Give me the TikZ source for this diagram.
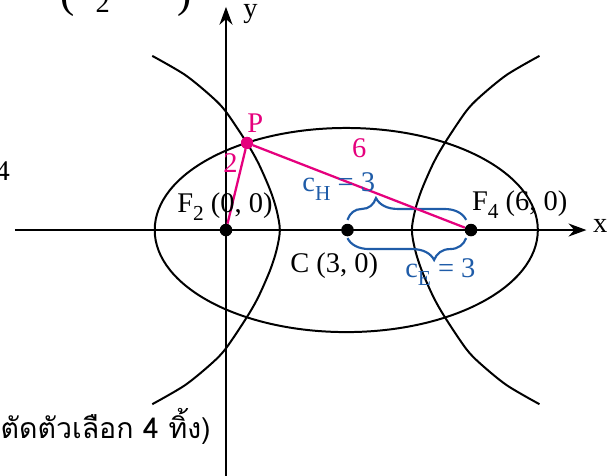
\documentclass[tikz,border=0pt]{standalone}
\usepackage{fontspec}
\setmainfont{Liberation Serif}
\newfontfamily\thaifont[Script=Thai]{Loma}
\usepackage{tikz}
\usetikzlibrary{positioning,arrows.meta,decorations.pathreplacing,calc}
\definecolor{hotpink}{RGB}{229,0,125}
\definecolor{braceblue}{RGB}{31,92,168}
\newcommand{\lowsub}[1]{\raisebox{-6pt}{\fontsize{15}{15}\selectfont #1}}

\begin{document}
\begin{tikzpicture}[
    font=\fontsize{20}{22}\selectfont,
    axis/.style={line width=1.4pt, -{Stealth[length=4.4mm, width=3.2mm, inset=1.4mm]}},
    curve/.style={line width=1.4pt},
    dot/.style={circle, fill=black, inner sep=0pt, minimum size=3.1mm},
    pdot/.style={circle, fill=hotpink, inner sep=0pt, minimum size=3mm},
    seg/.style={line width=1.6pt, hotpink},
    brc/.style={line width=1.5pt, braceblue, decorate,
                decoration={brace, amplitude=5.4mm, aspect=#1}},
    lbl/.style={inner sep=0pt, anchor=base west},
    rlbl/.style={inner sep=0pt, anchor=base east}
]
\useasboundingbox (-5.58,-6.05) rectangle (9.63,5.68);
\clip (-5.58,-6.05) rectangle (9.63,5.68);
\coordinate (xl) at (-5.21,0);
\coordinate (xr) at (8.9,0);
\coordinate (yb) at (0,-6.3);
\coordinate (yt) at (0,5.51);
\draw[axis] (xl) -- (xr);
\draw[axis] (yb) -- (yt);
\node[lbl] (xlab) at (9.06,-0.07) {x};
\node[lbl] (ylab) at (0.42,5.24) {y};
\draw[curve] (2.97,0) ellipse [x radius=4.73, y radius=2.52];
\draw[curve] plot[smooth] coordinates {(-1.82,4.30) (-1.01,3.83) (-0.35,3.29)
    (0,2.92) (0.51,2.16) (0.80,1.65) (1.09,0.99) (1.25,0.49) (1.33,0)
    (1.25,-0.49) (1.09,-0.99) (0.80,-1.65) (0.51,-2.16) (0,-2.92)
    (-0.35,-3.29) (-1.01,-3.83) (-1.82,-4.30)};
\draw[curve] plot[smooth] coordinates {(7.74,4.30) (6.93,3.83) (6.27,3.29)
    (5.92,2.92) (5.41,2.16) (5.12,1.65) (4.83,0.99) (4.67,0.49) (4.59,0)
    (4.67,-0.49) (4.83,-0.99) (5.12,-1.65) (5.41,-2.16) (5.92,-2.92)
    (6.27,-3.29) (6.93,-3.83) (7.74,-4.30)};
\node[dot] (F2) at (0,0) {};
\node[dot] (C) at (3,0) {};
\node[dot] (F4) at (6.05,0) {};
\node[pdot] (P) at (0.52,2.15) {};
\coordinate (bl) at ($(C)+(0,0.25)$);
\coordinate (br) at ($(F4)+(-0.12,0.25)$);
\coordinate (el) at ($(C)+(0,-0.2)$);
\coordinate (er) at ($(F4)+(-0.12,-0.2)$);
\draw[brc=0.24] (bl) -- (br);
\draw[brc=0.27] (er) -- (el);
\draw[seg] (P) -- (F2);
\draw[seg] (P) -- (F4);
\node[pdot] at (P) {};
\node[lbl, text=hotpink] (plab) at (0.52,2.42) {P};
\node[lbl, text=hotpink] (two) at (-0.07,1.41) {2};
\node[lbl, text=hotpink] (six) at (3.11,1.80) {6};
\node[lbl, text=braceblue] (cH) at (1.88,0.94) {c\lowsub{H} = 3};
\node[lbl, text=braceblue] (cE) at (4.42,-1.16) {c\lowsub{E} = 3};
\node[lbl] (F2lab) at (-1.21,0.44) {F\lowsub{2} (0, 0)};
\node[lbl] (F4lab) at (6.07,0.49) {F\lowsub{4} (6, 0)};
\node[lbl] (Clab) at (1.58,-1.06) {C (3, 0)};
\node[rlbl] (four) at (-5.33,1.23) {4};
\node[rlbl] (thai) at (-0.37,-5.14) {\fontsize{20}{22}\selectfont\thaifont ตัดตัวเลือก 4 ทิ้ง)};
\node[lbl] (topfrag) at (-4.10,5.49) {\fontsize{30}{30}\selectfont(\hspace{0.52cm}\raisebox{-3.7pt}{\fontsize{20}{20}\selectfont 2}\hspace{1.68cm})};
\end{tikzpicture}
\end{document}
